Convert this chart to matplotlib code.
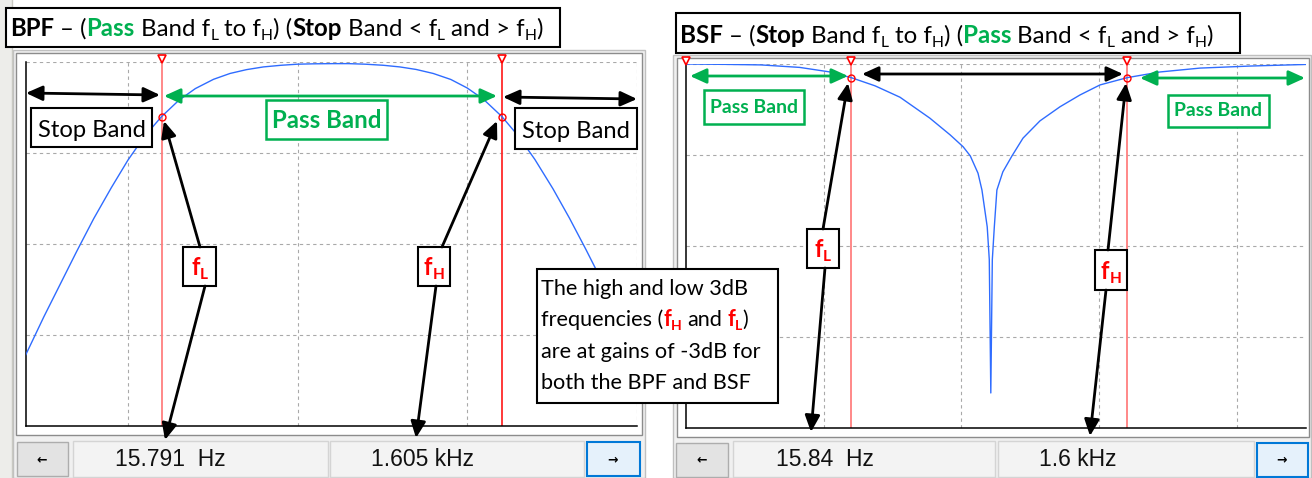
import matplotlib
matplotlib.use('Agg')
import matplotlib.pyplot as plt
from matplotlib.patches import Rectangle
from matplotlib.ticker import NullLocator
import matplotlib.transforms as mtransforms

W, H = 1312, 478
FONT = 'Lato'
UIFONT = 'Liberation Sans'
GREEN = '#00b050'
RED = '#ff0000'
BLUE = '#2f6cff'
PX = 100 / 72.0

# ---------------- data ----------------
bpf_freq_hz = [2.5, 3.2, 4, 5, 6.3, 8, 10, 12.5, 15.8, 20, 25, 32, 40, 50, 63, 80, 100, 125, 160, 200,
               250, 320, 400, 500, 630, 800, 1000, 1250, 1600, 2000, 2500, 3200, 4000, 5000, 6300, 8000, 10000]
bpf_gain_db = [-16.1, -14.0, -12.2, -10.4, -8.6, -6.9, -5.4, -4.1, -3.0, -2.1, -1.46, -0.95, -0.63, -0.42,
               -0.27, -0.18, -0.12, -0.1, -0.09, -0.09, -0.12, -0.18, -0.27, -0.41, -0.63, -0.96, -1.43,
               -2.06, -3.0, -4.07, -5.35, -6.97, -8.58, -10.3, -12.15, -14.1, -16.0]
bpf_f_low_hz = 15.791
bpf_f_high_hz = 1605

bsf_freq_hz = [1.0, 1.8, 3.5, 6.7, 11.1, 15.84, 23.6, 35.8, 59, 83, 103, 116, 132, 141, 154, 159.4, 163.5,
               167.7, 173.4, 181, 200, 233, 280, 372, 520, 727, 1015, 1600, 2770, 5400, 12500, 31600]
bsf_gain_db = [0.0, -0.07, -0.2, -0.75, -1.75, -3.0, -4.8, -7.3, -11.9, -15.6, -18.2, -20.2, -24.0, -27.7,
               -35.8, -43.0, -72.3, -43.0, -35.8, -27.7, -23.7, -20.2, -16.3, -12.5, -9.4, -6.8, -4.6, -3.0,
               -1.75, -0.9, -0.45, -0.1]
bsf_f_low_hz = 15.84
bsf_f_high_hz = 1600

cutoff_gain_db = -3
bpf_xgrid_hz = [10, 100, 1000, 10000]
bpf_ygrid_db = [-15, -10, -5, 0]
bsf_xgrid_hz = [10, 100, 1000, 10000]
bsf_ygrid_db = [-60, -40, -20, 0]
bpf_readouts = ['15.791  Hz', '1.605 kHz']
bsf_readouts = ['15.84  Hz', '1.6 kHz']

# ---------------- figure & helper axes ----------------
fig = plt.figure(figsize=(W / 100, H / 100), dpi=100, facecolor='white')


def pixel_axes(label, z):
    a = fig.add_axes([0, 0, 1, 1], label=label)
    a.set_xlim(0, W)
    a.set_ylim(H, 0)
    a.axis('off')
    a.set_zorder(z)
    a.patch.set_visible(False)
    return a


bg = pixel_axes('bg', 0)
ov = pixel_axes('ov', 5)


def rect(ax, x0, y0, x1, y1, fc='none', ec='none', lw=1.0, z=1):
    ax.add_patch(Rectangle((x0, y0), x1 - x0, y1 - y0, facecolor=fc, edgecolor=ec,
                           linewidth=lw, zorder=z))


# window chrome (screenshot frames)
rect(bg, 0, 0, 12, H, fc='#ededea')
bg.plot([12, 12], [0, H], color='#c9c9c2', lw=1)
# left window
rect(bg, 13, 50, 645, H, fc='#f0f0f0', ec='#c0c0c0')
rect(bg, 16, 53, 642, 435, fc='white', ec='#8c8c8c')
rect(bg, 17, 442, 68, 476, fc='#e3e3e3', ec='#adadad')
rect(bg, 73, 441, 328, 477, fc='#f3f3f3', ec='#d4d4d4')
rect(bg, 330, 441, 584, 477, fc='#f3f3f3', ec='#d4d4d4')
rect(bg, 587, 442, 640, 476, fc='#e5f1fb', ec='#0078d7', lw=1.5)
# right window
rect(bg, 673, 55, W - 1, H, fc='#f0f0f0', ec='#c0c0c0')
rect(bg, 677, 58, W - 3, 437, fc='white', ec='#8c8c8c')
rect(bg, 676, 443, 728, 477, fc='#e3e3e3', ec='#adadad')
rect(bg, 733, 441, 995, 477, fc='#f3f3f3', ec='#d4d4d4')
rect(bg, 998, 441, 1254, 477, fc='#f3f3f3', ec='#d4d4d4')
rect(bg, 1257, 443, 1308, 477, fc='#e5f1fb', ec='#0078d7', lw=1.5)
for xb, s in [(42, '←'), (613, '→'), (702, '←'), (1282, '→')]:
    bg.text(xb, 460, s, ha='center', va='center', fontsize=9, fontweight='bold',
            family='DejaVu Sans', color='black', zorder=3)


# ---------------- plot axes ----------------
def plot_axes(x0, y0, x1, y1, label):
    a = fig.add_axes([x0 / W, 1 - y1 / H, (x1 - x0) / W, (y1 - y0) / H], label=label)
    a.set_zorder(2)
    a.patch.set_visible(False)
    return a


def style(ax, xlim, ylim, xg, yg):
    ax.set_xscale('log')
    ax.set_xlim(*xlim)
    ax.set_ylim(*ylim)
    ax.set_xticks(xg)
    ax.set_yticks(yg)
    ax.xaxis.set_minor_locator(NullLocator())
    ax.yaxis.set_minor_locator(NullLocator())
    ax.tick_params(which='both', length=0, labelbottom=False, labelleft=False)
    for s in ('top', 'right'):
        ax.spines[s].set_visible(False)
    for s in ('left', 'bottom'):
        ax.spines[s].set_linewidth(1.1)
        ax.spines[s].set_color('black')
    ax.grid(True, color='#a9a9a9', lw=0.8, ls=(0, (3, 3)))
    ax.set_axisbelow(True)


ax1 = plot_axes(26, 62, 637, 426, 'bpf')
style(ax1, (10 ** 0.4, 1e4), (-20, 0), bpf_xgrid_hz, bpf_ygrid_db)
ax2 = plot_axes(686, 64, 1306, 428, 'bsf')
style(ax2, (1, 10 ** 4.5025), (-80, 0), bsf_xgrid_hz, bsf_ygrid_db)


def cursors(ax, fl, fh, colors, extra=()):
    for f, c in zip((fl, fh), colors):
        ax.axvline(f, color=c, lw=1.3, zorder=2)
    ax.plot([fl, fh], [cutoff_gain_db, cutoff_gain_db], ls='none', marker='o', ms=5,
            mfc='none', mec=RED, mew=1, zorder=4)
    tr = mtransforms.offset_copy(ax.transData, fig=fig, x=0, y=3, units='dots')
    xs = [fl, fh] + list(extra)
    ax.plot(xs, [0] * len(xs), ls='none', marker='v', ms=6, mfc='white', mec=RED,
            mew=1.2, transform=tr, clip_on=False, zorder=4)


ax1.plot(bpf_freq_hz, bpf_gain_db, color=BLUE, lw=1.0, zorder=3)
cursors(ax1, bpf_f_low_hz, bpf_f_high_hz, ('#ff7f7f', '#ff2a2a'))
ax2.plot(bsf_freq_hz, bsf_gain_db, color=BLUE, lw=1.0, zorder=3)
cursors(ax2, bsf_f_low_hz, bsf_f_high_hz, ('#ff7f7f', '#ff7f7f'), extra=(bsf_freq_hz[0],))

# ---------------- rich text helpers ----------------
renderer = fig.canvas.get_renderer()
SUB = 0.65


def measure(s, size, weight, family):
    t = ov.text(0, 0, s, fontsize=size, fontweight=weight, family=family)
    w = t.get_window_extent(renderer).width
    t.remove()
    return w


def space_w(size, weight, family):
    return measure('x x', size, weight, family) - measure('xx', size, weight, family)


def runs_width(runs, size, family=FONT):
    total = 0.0
    for txt, st in runs:
        fs = size * SUB if st.get('sub') else size
        wt = st.get('weight', 'normal')
        core = txt.strip(' ')
        lead = len(txt) - len(txt.lstrip(' '))
        trail = len(txt) - len(txt.rstrip(' '))
        total += (lead + trail) * space_w(fs, wt, family)
        if core:
            total += measure(core, fs, wt, family)
    return total


def draw_runs(x, y, runs, size, family=FONT, ha='left'):
    w = runs_width(runs, size, family)
    cx = x - (w / 2 if ha == 'center' else 0)
    for txt, st in runs:
        fs = size * SUB if st.get('sub') else size
        wt = st.get('weight', 'normal')
        dy = size * 0.16 * PX if st.get('sub') else 0
        core = txt.strip(' ')
        lead = len(txt) - len(txt.lstrip(' '))
        trail = len(txt) - len(txt.rstrip(' '))
        sw = space_w(fs, wt, family)
        cx += lead * sw
        if core:
            ov.text(cx, y + dy, core, fontsize=fs, fontweight=wt, color=st.get('color', 'black'),
                    family=family, va='baseline', ha='left', zorder=6)
            cx += measure(core, fs, wt, family)
        cx += trail * sw
    return w


def fit(runs, width, family=FONT):
    return 20.0 * width / runs_width(runs, 20.0, family)


def box(x0, y0, x1, y1, ec='black', lw=1.5):
    rect(ov, x0, y0, x1, y1, fc='white', ec=ec, lw=lw, z=3)


def arrow(p0, p1, color='black', both=False):
    style_ = ('<|-|>' if both else '-|>') + ',head_length=0.55,head_width=0.25'
    ov.annotate('', xy=p1, xytext=p0, zorder=7,
                arrowprops=dict(arrowstyle=style_, color=color, lw=2.0, mutation_scale=18,
                                shrinkA=0, shrinkB=0))


B = dict(weight='bold')
R = {}
G = dict(weight='bold', color=GREEN)
S = dict(sub=True)
RB = dict(weight='bold', color=RED)
RBS = dict(weight='bold', color=RED, sub=True)

# ---------------- titles ----------------
title1 = [("BPF", B), (" – (", R), ("Pass", G), (" Band f", R), ("L", S), (" to f", R), ("H", S),
          (") (", R), ("Stop", B), (" Band < f", R), ("L", S), (" and > f", R), ("H", S), (")", R)]
title2 = [("BSF", B), (" – (", R), ("Stop", B), (" Band f", R), ("L", S), (" to f", R), ("H", S),
          (") (", R), ("Pass", G), (" Band < f", R), ("L", S), (" and > f", R), ("H", S), (")", R)]
box(6, 8, 560, 47)
draw_runs(10, 36, title1, fit(title1, 533))
box(676, 13, 1240, 53)
draw_runs(680, 43, title2, fit(title2, 533))

# ---------------- left (BPF) annotations ----------------
stop = [("Stop Band", R)]
ssz = fit(stop, 108)
box(31, 108, 152, 147)
draw_runs(91.5, 137, stop, ssz, ha='center')
box(515, 108, 637, 149)
draw_runs(576, 138, stop, ssz, ha='center')
passL = [("Pass Band", G)]
box(266, 100, 387, 139, ec=GREEN, lw=1.8)
draw_runs(326.5, 128, passL, fit(passL, 109), ha='center')

arrow((26, 93), (160, 95), both=True)
arrow((164, 96), (497, 96), color=GREEN, both=True)
arrow((503, 97), (637, 99), both=True)

fl = [("f", RB), ("L", RBS)]
fh = [("f", RB), ("H", RBS)]
fsz = 17
box(183, 247, 216, 286)
draw_runs(199.5, 275, fl, fsz, ha='center')
box(418, 247, 450, 286)
draw_runs(434, 275, fh, fsz, ha='center')
arrow((200, 247), (164, 121))
arrow((205, 286), (165, 440))
arrow((442, 247), (497, 121))
arrow((436, 286), (416, 438))

# info box
info = [
    [("The high and low 3dB", R)],
    [("frequencies (", R), ("f", RB), ("H", RBS), (" and ", R), ("f", RB), ("L", RBS), (")", R)],
    [("are at gains of -3dB for", R)],
    [("both the BPF and BSF", R)],
]
box(537, 269, 778, 403)
isz = fit(info[0], 207)
for i, ln in enumerate(info):
    draw_runs(541, 295 + i * 31.3, ln, isz)

# ---------------- right (BSF) annotations ----------------
passR = [("Pass Band", G)]
psz = fit(passR, 88)
box(704, 90, 804, 124, ec=GREEN, lw=1.8)
draw_runs(754, 113, passR, psz, ha='center')
box(1168, 95, 1269, 127, ec=GREEN, lw=1.8)
draw_runs(1218.5, 116, passR, psz, ha='center')

arrow((690, 76), (848, 76), color=GREEN, both=True)
arrow((862, 74), (1123, 74), both=True)
arrow((1140, 78), (1305, 78), color=GREEN, both=True)

box(807, 229, 839, 268)
draw_runs(823, 257, fl, fsz, ha='center')
box(1095, 250, 1127, 290)
draw_runs(1111, 279, fh, fsz, ha='center')
arrow((823, 229), (848, 83))
arrow((825, 268), (811, 432))
arrow((1108, 250), (1126, 83))
arrow((1106, 290), (1090, 436))

# ---------------- readouts ----------------
for x, s in zip((115, 371, 776, 1039), bpf_readouts + bsf_readouts):
    ov.text(x, 466, s, fontsize=16.5, family=UIFONT, va='baseline', ha='left', color='#111111', zorder=6)

fig.savefig('out.png', dpi=100, facecolor='white')
